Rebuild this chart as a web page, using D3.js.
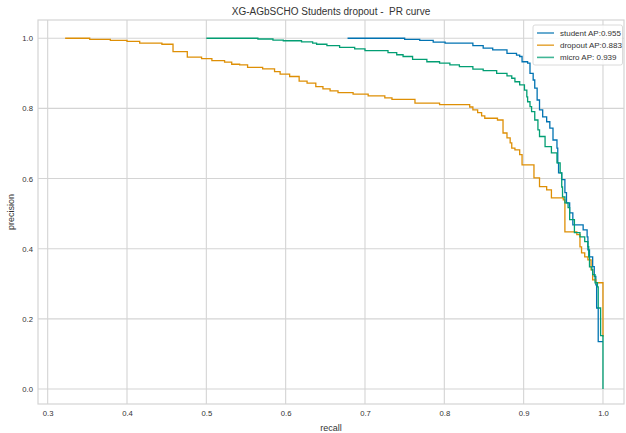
<!DOCTYPE html>
<html>
<head>
<meta charset="utf-8">
<script src="https://cdn.jsdelivr.net/npm/d3@7"></script>
<style>
  body { margin: 0; background: #fff; }
  text { font-family: "Liberation Sans", Arial, sans-serif; fill: #333; }
</style>
</head>
<body>
<svg id="chart" width="626" height="433"></svg>
<script>
// Precision-recall curves for the dropout classifier
const chartTitle = "XG-AGbSCHO Students dropout -  PR curve";
const xLabel = "recall";
const yLabel = "precision";
const xTicks = [0.3, 0.4, 0.5, 0.6, 0.7, 0.8, 0.9, 1.0];
const yTicks = [0.0, 0.2, 0.4, 0.6, 0.8, 1.0];

const seriesLabels = ["student AP:0.955", "dropout AP:0.883", "micro AP: 0.939"];
const seriesColors = ["#0173b2", "#de8f05", "#029e73"];

const studentRecall = [0.678,0.750,0.769,0.786,0.801,0.836,0.849,0.861,0.879,0.891,0.895,0.898,0.905,0.908,0.912,0.914,0.917,0.920,0.924,0.929,0.933,0.937,0.942,0.943,0.944,0.948,0.952,0.954,0.958,0.962,0.975,0.980,0.981,0.983,0.987,0.989,0.991,0.992,0.994,1.000];
const studentPrecision = [1.000,0.997,0.994,0.989,0.986,0.979,0.972,0.967,0.957,0.952,0.948,0.933,0.929,0.900,0.881,0.858,0.824,0.796,0.776,0.762,0.744,0.710,0.687,0.645,0.616,0.597,0.560,0.531,0.502,0.468,0.454,0.434,0.397,0.377,0.349,0.321,0.297,0.231,0.135,0.135];

const dropoutRecall = [0.322,0.353,0.379,0.400,0.416,0.444,0.458,0.476,0.494,0.507,0.523,0.532,0.542,0.552,0.571,0.586,0.593,0.605,0.617,0.627,0.638,0.647,0.656,0.666,0.685,0.704,0.725,0.734,0.763,0.794,0.832,0.836,0.842,0.847,0.851,0.867,0.874,0.879,0.883,0.885,0.889,0.895,0.898,0.913,0.920,0.929,0.935,0.950,0.952,0.967,0.971,0.973,0.977,0.981,0.985,0.987,0.991,1.000,1.000];
const dropoutPrecision = [1.000,0.997,0.994,0.991,0.986,0.983,0.962,0.946,0.942,0.936,0.932,0.926,0.924,0.917,0.913,0.905,0.898,0.891,0.878,0.872,0.862,0.856,0.850,0.845,0.841,0.836,0.830,0.826,0.815,0.811,0.804,0.796,0.788,0.779,0.772,0.767,0.730,0.716,0.702,0.687,0.682,0.668,0.639,0.602,0.577,0.568,0.545,0.539,0.448,0.440,0.405,0.388,0.377,0.368,0.340,0.311,0.303,0.300,0.149];

const microRecall = [0.500,0.565,0.584,0.597,0.620,0.634,0.639,0.652,0.668,0.687,0.700,0.729,0.740,0.748,0.760,0.778,0.794,0.807,0.819,0.836,0.849,0.866,0.879,0.885,0.889,0.895,0.901,0.904,0.905,0.908,0.910,0.914,0.918,0.920,0.927,0.935,0.942,0.946,0.948,0.949,0.952,0.956,0.958,0.964,0.971,0.977,0.981,0.982,0.983,0.986,0.987,0.990,0.993,0.994,0.997,1.000,1.000];
const microPrecision = [1.000,0.998,0.995,0.993,0.990,0.986,0.983,0.979,0.974,0.970,0.965,0.959,0.953,0.948,0.940,0.933,0.929,0.924,0.919,0.912,0.908,0.900,0.893,0.886,0.876,0.867,0.852,0.833,0.819,0.805,0.791,0.767,0.739,0.720,0.691,0.673,0.645,0.616,0.576,0.548,0.531,0.517,0.483,0.446,0.434,0.420,0.406,0.377,0.348,0.340,0.326,0.303,0.291,0.231,0.152,0.152,0.000];

const series = [
  { label: seriesLabels[0], color: seriesColors[0], recall: studentRecall, precision: studentPrecision },
  { label: seriesLabels[1], color: seriesColors[1], recall: dropoutRecall, precision: dropoutPrecision },
  { label: seriesLabels[2], color: seriesColors[2], recall: microRecall, precision: microPrecision }
];

const svg = d3.select("#chart");
const plot = { left: 38, right: 624, top: 20, bottom: 404 };

const x = d3.scaleLinear().domain([0.2878, 1.0265]).range([plot.left, plot.right]);
const y = d3.scaleLinear().domain([-0.0427, 1.0521]).range([plot.bottom, plot.top]);

const gridColor = "#d4d4d4";

// grid lines
svg.append("g").selectAll("line").data(xTicks).join("line")
  .attr("x1", d => x(d)).attr("x2", d => x(d))
  .attr("y1", plot.top).attr("y2", plot.bottom)
  .attr("stroke", gridColor).attr("stroke-width", 1.1);
svg.append("g").selectAll("line").data(yTicks).join("line")
  .attr("x1", plot.left).attr("x2", plot.right)
  .attr("y1", d => y(d)).attr("y2", d => y(d))
  .attr("stroke", gridColor).attr("stroke-width", 1.1);

// frame
svg.append("rect")
  .attr("x", plot.left).attr("y", plot.top)
  .attr("width", plot.right - plot.left).attr("height", plot.bottom - plot.top)
  .attr("fill", "none").attr("stroke", gridColor).attr("stroke-width", 1.2);

// axes (no tick marks, labels only)
const xAxis = svg.append("g").attr("transform", `translate(0,${plot.bottom})`)
  .call(d3.axisBottom(x).tickValues(xTicks).tickFormat(d3.format(".1f")).tickSize(0).tickPadding(7));
const yAxis = svg.append("g").attr("transform", `translate(${plot.left},0)`)
  .call(d3.axisLeft(y).tickValues(yTicks).tickFormat(d3.format(".1f")).tickSize(0).tickPadding(5));
[xAxis, yAxis].forEach(g => {
  g.select(".domain").remove();
  g.selectAll("text").attr("font-size", 7.7).attr("fill", "#444")
    .attr("font-family", "'Liberation Sans', Arial, sans-serif");
});

// curves
const line = d3.line()
  .x(d => x(d[0])).y(d => y(d[1]))
  .curve(d3.curveStepAfter);

series.forEach(s => {
  const pts = s.recall.map((r, i) => [r, s.precision[i]]);
  svg.append("path")
    .datum(pts)
    .attr("d", line)
    .attr("fill", "none")
    .attr("stroke", s.color)
    .attr("stroke-width", 1.3)
    .attr("stroke-linejoin", "miter");
});

// titles
svg.append("text")
  .attr("x", (plot.left + plot.right) / 2).attr("y", 15)
  .attr("text-anchor", "middle").attr("font-size", 10).attr("fill", "#262626")
  .style("white-space", "pre")
  .text(chartTitle);
svg.append("text")
  .attr("x", (plot.left + plot.right) / 2).attr("y", 431)
  .attr("text-anchor", "middle").attr("font-size", 9).attr("fill", "#262626")
  .text(xLabel);
svg.append("text")
  .attr("transform", `translate(14,${(plot.top + plot.bottom) / 2}) rotate(-90)`)
  .attr("text-anchor", "middle").attr("font-size", 9).attr("fill", "#262626")
  .text(yLabel);

// legend
const legend = svg.append("g").attr("transform", "translate(533,25)");
legend.append("rect")
  .attr("width", 89.5).attr("height", 40).attr("rx", 2)
  .attr("fill", "#fff").attr("fill-opacity", 0.85)
  .attr("stroke", "#d0d0d0").attr("stroke-width", 0.8);
series.forEach((s, i) => {
  const row = legend.append("g").attr("transform", `translate(0,${8 + i * 12.2})`);
  row.append("line")
    .attr("x1", 4).attr("x2", 21).attr("y1", 0).attr("y2", 0)
    .attr("stroke", s.color).attr("stroke-width", 1.6).attr("stroke-opacity", 0.75);
  row.append("text")
    .attr("x", 27).attr("y", 2.9)
    .attr("font-size", 8).attr("fill", "#262626")
    .text(s.label);
});
</script>
</body>
</html>
